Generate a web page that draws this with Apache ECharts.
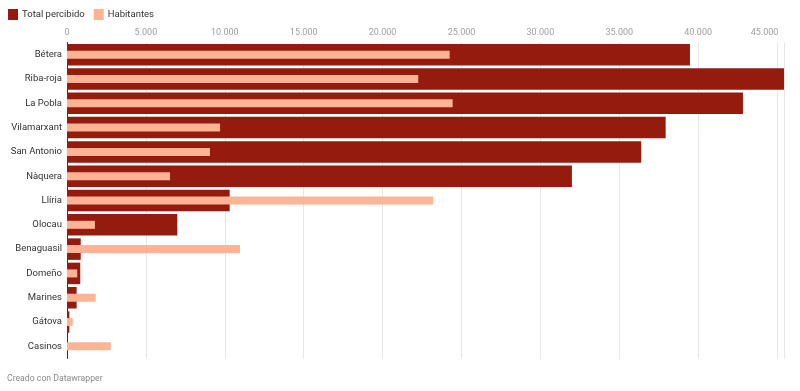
<!DOCTYPE html>
<html><head><meta charset="utf-8">
<script src="https://cdn.jsdelivr.net/npm/echarts@6/dist/echarts.min.js"></script>
<style>html,body{margin:0;padding:0;background:#fff}#c{width:800px;height:391px}</style>
</head><body><div id="c"></div>
<script>
var categories = ['Bétera','Riba-roja','La Pobla','Vilamarxant','San Antonio','Nàquera','Llíria','Olocau','Benaguasil','Domeño','Marines','Gátova','Casinos'];
var totalPercibido = [39480, 45440, 42840, 37940, 36390, 32000, 10310, 6990, 870, 840, 610, 150, 0];
var habitantes = [24250, 22260, 24440, 9700, 9060, 6530, 23210, 1770, 10960, 650, 1820, 360, 2770];
var tickValues = [0,5000,10000,15000,20000,25000,30000,35000,40000,45000];

function fmt(v){ return String(v).replace(/\B(?=(\d{3})+(?!\d))/g, '.'); }

var chart = echarts.init(document.getElementById('c'));
var font = 'Roboto, "Noto Sans", sans-serif';
chart.setOption({
  animation: false,
  textStyle: { fontFamily: font },
  legend: {
    left: 8, top: 9, padding: 0, itemWidth: 10, itemHeight: 11, itemGap: 9,
    icon: 'rect',
    textStyle: { fontSize: 9.5, color: '#333', fontFamily: font, padding: [0,0,0,-1] },
    data: ['Total percibido','Habitantes']
  },
  graphic: [{
    type: 'text', left: 7, top: 374,
    style: { text: 'Creado con Datawrapper', fill: '#8a8a8a', fontSize: 8.7, fontFamily: font }
  }],
  grid: { left: 67, right: 16, top: 42.5, bottom: 391 - 358.5, containLabel: false },
  xAxis: {
    type: 'value', position: 'top', min: 0, max: function(v){ return v.max; }, interval: 5000,
    axisLine: { show: false }, axisTick: { show: false },
    splitLine: { lineStyle: { color: '#e6e6e6', width: 1 } },
    axisLabel: {
      color: '#a0a0a0', fontSize: 9, margin: 5, fontFamily: font,
      formatter: function(v){
        if (tickValues.indexOf(v) < 0) return '';
        if (v === 45000) return '{r|' + fmt(v) + '}';
        return fmt(v);
      },
      rich: { r: { color: '#a0a0a0', fontSize: 9, fontFamily: font, padding: [0, 25, 0, 0] } }
    }
  },
  yAxis: [{
    type: 'category', data: categories, inverse: true,
    axisLine: { show: true, lineStyle: { color: '#333', width: 1 } },
    axisTick: { show: false },
    axisLabel: { color: '#333', fontSize: 9.5, margin: 5, fontFamily: font }
  }, {
    type: 'category', data: categories, inverse: true, show: false
  }],
  series: [{
    name: 'Total percibido', type: 'bar', yAxisIndex: 0, data: totalPercibido,
    barWidth: 21.5, itemStyle: { color: '#961b0f' }, z: 2
  }, {
    name: 'Habitantes', type: 'bar', yAxisIndex: 1, data: habitantes,
    barWidth: 8, itemStyle: { color: '#fdb495' }, z: 3
  }]
});
</script>
</body></html>
